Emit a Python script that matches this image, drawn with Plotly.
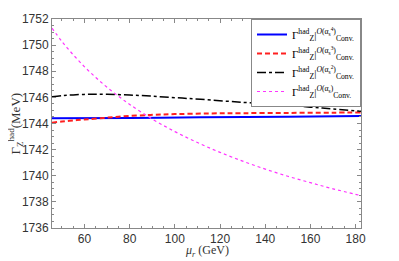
import plotly.graph_objects as go

mu_mag = [45.6, 50, 55, 60, 65, 70, 75, 80, 90, 100, 110, 120, 130, 140, 150, 160, 170, 182.4]
g_mag = [1751.3, 1750.28, 1749.26, 1748.34, 1747.52, 1746.77, 1746.09, 1745.46, 1744.34, 1743.38,
         1742.54, 1741.79, 1741.12, 1740.51, 1739.96, 1739.47, 1739.00, 1738.48]

mu_blk = [45.6, 50, 55, 62.5, 70, 80, 89.2, 100, 111.4, 130, 146.9, 160, 170, 182.4]
g_blk = [1746.05, 1746.13, 1746.19, 1746.24, 1746.23, 1746.18, 1746.1, 1745.98, 1745.85, 1745.62, 1745.43, 1745.25, 1745.11, 1744.93]

mu_red = [45.6, 50, 55, 60, 66.9, 75, 89.2, 100, 115.8, 130, 150, 170, 182.4]
g_red = [1744.06, 1744.15, 1744.24, 1744.31, 1744.40, 1744.52, 1744.66, 1744.72, 1744.77, 1744.79, 1744.81, 1744.83, 1744.85]

mu_blu = [45.6, 80, 111.4, 150, 182.4]
g_blu = [1744.40, 1744.43, 1744.47, 1744.52, 1744.57]

names = [
    "Γ<sup>had</sup><sub>Z</sub>|<sup><i>O</i>(α<sub>s</sub><sup>4</sup>)</sup><sub>Conv.</sub>",
    "Γ<sup>had</sup><sub>Z</sub>|<sup><i>O</i>(α<sub>s</sub><sup>3</sup>)</sup><sub>Conv.</sub>",
    "Γ<sup>had</sup><sub>Z</sub>|<sup><i>O</i>(α<sub>s</sub><sup>2</sup>)</sup><sub>Conv.</sub>",
    "Γ<sup>had</sup><sub>Z</sub>|<sup><i>O</i>(α<sub>s</sub>)</sup><sub>Conv.</sub>",
]
x_title = "<i>μ<sub>r</sub></i> (GeV)"
y_title = "Γ<sub>Z</sub><sup>had</sup>(MeV)"

fig = go.Figure()
fig.add_trace(go.Scatter(x=mu_blu, y=g_blu, mode="lines", name=names[0],
                         line=dict(color="#0000ff", width=2, shape="spline")))
fig.add_trace(go.Scatter(x=mu_red, y=g_red, mode="lines", name=names[1],
                         line=dict(color="#ff2020", width=2, dash="5px,3px", shape="spline")))
fig.add_trace(go.Scatter(x=mu_blk, y=g_blk, mode="lines", name=names[2],
                         line=dict(color="#000000", width=1.5, dash="dashdot", shape="spline")))
fig.add_trace(go.Scatter(x=mu_mag, y=g_mag, mode="lines", name=names[3],
                         line=dict(color="#ff33ff", width=1.2, dash="dot", shape="spline")))

axis_common = dict(showline=True, linecolor="#888888", linewidth=1, mirror="ticks",
                   ticks="inside", ticklen=4, tickcolor="#888888", showgrid=False,
                   zeroline=False, automargin=False,
                   tickfont=dict(family="Liberation Sans, Arial", size=12, color="#333333"))

title_font = dict(family="Liberation Serif, Times New Roman", size=12, color="#333333")

# the page body has an 8px default margin, so the figure is sized/offset to compensate
fig.update_layout(
    width=391, height=253,
    margin=dict(l=44, r=38, t=11, b=33),
    paper_bgcolor="white", plot_bgcolor="white",
    xaxis=dict(range=[45.6, 182.4], tickvals=[60, 80, 100, 120, 140, 160, 180],
               minor=dict(dtick=5, ticks="inside", ticklen=2, tickcolor="#888888"),
               **axis_common),
    yaxis=dict(range=[1736, 1752], dtick=2,
               minor=dict(dtick=0.5, ticks="inside", ticklen=2, tickcolor="#888888"),
               **axis_common),
    legend=dict(x=1, xanchor="right", y=1, yanchor="top", bgcolor="white",
                bordercolor="#888888", borderwidth=1,
                font=dict(family="Liberation Serif, Times New Roman", size=11, color="#000000"),
                itemwidth=30, tracegroupgap=0),
    annotations=[
        dict(text=x_title, xref="paper", yref="paper", x=0.5, y=0, yshift=-32,
             xanchor="center", yanchor="bottom", showarrow=False, borderpad=0, font=title_font),
        dict(text=y_title, xref="paper", yref="paper", x=0, y=0.5, xshift=-37,
             xanchor="center", yanchor="middle", textangle=-90, showarrow=False, borderpad=0,
             font=dict(family="Liberation Serif, Times New Roman", size=13, color="#333333")),
    ],
    showlegend=True,
)

fig.write_html("out.html")
